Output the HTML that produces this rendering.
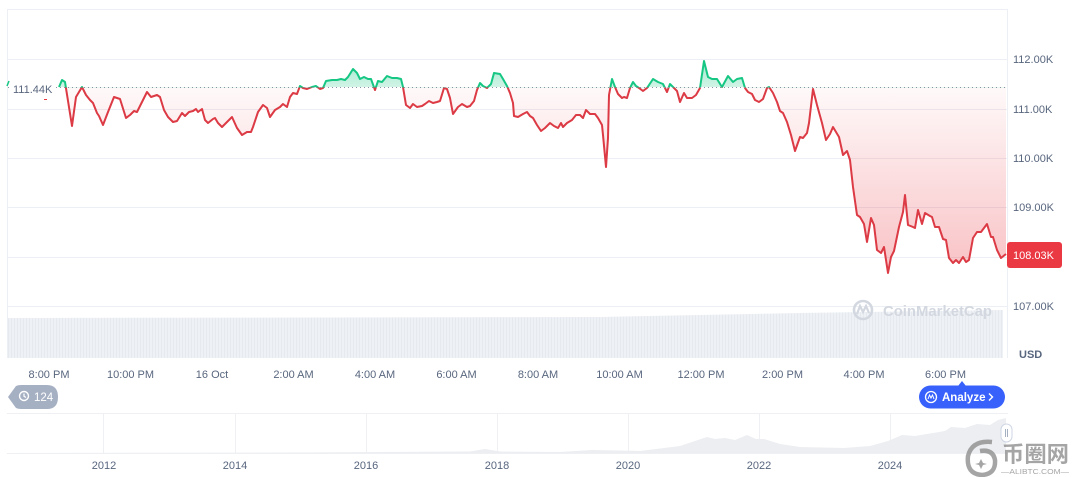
<!DOCTYPE html>
<html>
<head>
<meta charset="utf-8">
<style>
  html,body{margin:0;padding:0;background:#fff;}
  svg{display:block;font-family:"Liberation Sans",Arial,sans-serif;}
</style>
</head>
<body>
<svg width="1072" height="477" viewBox="0 0 1072 477" xmlns="http://www.w3.org/2000/svg">
  <defs>
    <linearGradient id="redg" gradientUnits="userSpaceOnUse" x1="0" y1="87" x2="0" y2="280">
      <stop offset="0" stop-color="#ea3943" stop-opacity="0.03"/>
      <stop offset="1" stop-color="#ea3943" stop-opacity="0.32"/>
    </linearGradient>
    <linearGradient id="greeng" gradientUnits="userSpaceOnUse" x1="0" y1="60" x2="0" y2="87">
      <stop offset="0" stop-color="#16c784" stop-opacity="0.40"/>
      <stop offset="1" stop-color="#16c784" stop-opacity="0.20"/>
    </linearGradient>
    <pattern id="volp" width="3" height="10" patternUnits="userSpaceOnUse">
      <rect x="0" y="0" width="3" height="10" fill="#eef1f5"/>
      <rect x="2" y="0" width="1" height="10" fill="#e6e9ee"/>
    </pattern>
    <clipPath id="above"><rect x="0" y="0" width="1072" height="87.5"/></clipPath>
    <clipPath id="below"><rect x="0" y="87.5" width="1072" height="400"/></clipPath>
    <path id="areaP" d="M59 87 L62 80 L65 82 L72 126 L76 97 L79 92 L82 87 L86 95 L90 100 L93 103 L97 113 L99 116 L103 125 L108 112 L114 97 L120 99 L126 118 L130 115 L134 111 L137 112 L142 102 L147 92 L151 97 L157 95 L160 97 L164 110 L168 117 L173 122 L177 121 L182 113 L185 116 L189 112 L193 111 L196 109 L198 112 L202 109 L205 120 L208 123 L213 119 L215 118 L218 123 L222 127 L227 122 L232 117 L237 128 L242 135 L247 132 L251 132 L253 127 L258 112 L263 105 L267 108 L270 117 L275 110 L280 107 L283 104 L287 107 L290 97 L293 93 L297 94 L300 86 L303 88 L307 89 L312 87 L316 86 L320 89 L323 88 L326 81 L332 80 L337 80 L341 79 L345 80 L348 77 L353 69 L357 73 L360 79 L364 77 L368 79 L371 79 L375 90 L378 81 L382 82 L387 76 L392 78 L397 78 L401 79 L403 87 L406 105 L410 108 L413 104 L417 107 L422 106 L425 104 L429 101 L433 103 L437 102 L440 101 L444 88 L447 89 L450 98 L453 114 L458 107 L462 104 L467 107 L470 106 L474 101 L477 90 L480 83 L483 86 L487 88 L491 84 L494 73 L500 74 L503 79 L507 86 L510 93 L513 103 L514 116 L518 117 L523 114 L527 112 L530 116 L533 118 L537 125 L541 131 L545 128 L550 123 L554 126 L558 128 L561 123 L563 127 L567 123 L572 120 L576 115 L580 115 L583 118 L586 110 L590 114 L595 114 L598 118 L602 125 L603 135 L606 167 L608 138 L609 95 L612 79 L615 87 L618 94 L622 98 L624 97 L627 98 L630 88 L633 82 L636 86 L639 88 L643 91 L647 88 L653 79 L658 82 L663 84 L667 92 L670 84 L674 88 L677 91 L680 102 L684 93 L687 98 L692 98 L696 95 L700 88 L704 61 L708 77 L712 79 L717 79 L722 87 L728 76 L733 82 L737 79 L742 78 L745 88 L748 92 L752 94 L755 100 L759 102 L763 99 L767 88 L769 87 L773 93 L777 102 L780 111 L783 113 L787 122 L791 135 L795 151 L800 137 L803 138 L807 133 L809 123 L813 89 L817 105 L822 123 L826 140 L830 134 L833 127 L839 137 L843 155 L847 151 L850 160 L853 187 L857 215 L860 217 L864 224 L867 242 L871 218 L874 225 L877 250 L881 253 L884 247 L888 273 L891 257 L894 251 L899 227 L903 212 L905 195 L908 225 L913 227 L915 228 L918 210 L922 224 L925 213 L930 216 L932 217 L935 227 L939 227 L943 239 L946 240 L949 258 L953 263 L956 260 L959 263 L963 257 L966 262 L969 260 L973 238 L977 232 L981 232 L987 224 L991 237 L993 237 L997 250 L1001 258 L1006 254 L1006 87 Z"/>
    <path id="lineP" d="M59 87 L62 80 L65 82 L72 126 L76 97 L79 92 L82 87 L86 95 L90 100 L93 103 L97 113 L99 116 L103 125 L108 112 L114 97 L120 99 L126 118 L130 115 L134 111 L137 112 L142 102 L147 92 L151 97 L157 95 L160 97 L164 110 L168 117 L173 122 L177 121 L182 113 L185 116 L189 112 L193 111 L196 109 L198 112 L202 109 L205 120 L208 123 L213 119 L215 118 L218 123 L222 127 L227 122 L232 117 L237 128 L242 135 L247 132 L251 132 L253 127 L258 112 L263 105 L267 108 L270 117 L275 110 L280 107 L283 104 L287 107 L290 97 L293 93 L297 94 L300 86 L303 88 L307 89 L312 87 L316 86 L320 89 L323 88 L326 81 L332 80 L337 80 L341 79 L345 80 L348 77 L353 69 L357 73 L360 79 L364 77 L368 79 L371 79 L375 90 L378 81 L382 82 L387 76 L392 78 L397 78 L401 79 L403 87 L406 105 L410 108 L413 104 L417 107 L422 106 L425 104 L429 101 L433 103 L437 102 L440 101 L444 88 L447 89 L450 98 L453 114 L458 107 L462 104 L467 107 L470 106 L474 101 L477 90 L480 83 L483 86 L487 88 L491 84 L494 73 L500 74 L503 79 L507 86 L510 93 L513 103 L514 116 L518 117 L523 114 L527 112 L530 116 L533 118 L537 125 L541 131 L545 128 L550 123 L554 126 L558 128 L561 123 L563 127 L567 123 L572 120 L576 115 L580 115 L583 118 L586 110 L590 114 L595 114 L598 118 L602 125 L603 135 L606 167 L608 138 L609 95 L612 79 L615 87 L618 94 L622 98 L624 97 L627 98 L630 88 L633 82 L636 86 L639 88 L643 91 L647 88 L653 79 L658 82 L663 84 L667 92 L670 84 L674 88 L677 91 L680 102 L684 93 L687 98 L692 98 L696 95 L700 88 L704 61 L708 77 L712 79 L717 79 L722 87 L728 76 L733 82 L737 79 L742 78 L745 88 L748 92 L752 94 L755 100 L759 102 L763 99 L767 88 L769 87 L773 93 L777 102 L780 111 L783 113 L787 122 L791 135 L795 151 L800 137 L803 138 L807 133 L809 123 L813 89 L817 105 L822 123 L826 140 L830 134 L833 127 L839 137 L843 155 L847 151 L850 160 L853 187 L857 215 L860 217 L864 224 L867 242 L871 218 L874 225 L877 250 L881 253 L884 247 L888 273 L891 257 L894 251 L899 227 L903 212 L905 195 L908 225 L913 227 L915 228 L918 210 L922 224 L925 213 L930 216 L932 217 L935 227 L939 227 L943 239 L946 240 L949 258 L953 263 L956 260 L959 263 L963 257 L966 262 L969 260 L973 238 L977 232 L981 232 L987 224 L991 237 L993 237 L997 250 L1001 258 L1006 254"/>
  </defs>

  <!-- frame -->
  <line x1="7" y1="9.5" x2="1007" y2="9.5" stroke="#eceff3" stroke-width="1"/>
  <line x1="7.5" y1="9" x2="7.5" y2="358" stroke="#eceff3" stroke-width="1"/>
  <line x1="1007.5" y1="9" x2="1007.5" y2="358" stroke="#eceff3" stroke-width="1"/>

  <!-- grid -->
  <g stroke="#eceff3" stroke-width="1">
    <line x1="8" y1="59.5" x2="1007" y2="59.5"/>
    <line x1="8" y1="109.5" x2="1007" y2="109.5"/>
    <line x1="8" y1="158.5" x2="1007" y2="158.5"/>
    <line x1="8" y1="207.5" x2="1007" y2="207.5"/>
    <line x1="8" y1="257.5" x2="1007" y2="257.5"/>
    <line x1="8" y1="306.5" x2="1007" y2="306.5"/>
  </g>

  <!-- volume -->
  <path d="M8 318 L600 317 L800 313 L1003 310 L1003 358 L8 358 Z" fill="url(#volp)"/>

  <!-- CoinMarketCap watermark -->
  <g>
    <circle cx="863" cy="310" r="9" fill="none" stroke="#d3d8e0" stroke-width="2.6"/>
    <path d="M857 314 L860 306 L863 312 L866 306 L869 313" fill="none" stroke="#d3d8e0" stroke-width="2.2"/>
    <text x="883" y="316" font-size="15" font-weight="bold" fill="#d3d8e0" textLength="109" lengthAdjust="spacingAndGlyphs">CoinMarketCap</text>
  </g>

  <!-- area fills -->
  <use href="#areaP" fill="url(#redg)" clip-path="url(#below)"/>
  <use href="#areaP" fill="url(#greeng)" clip-path="url(#above)"/>
  <use href="#lineP" fill="none" stroke="#dc3a44" stroke-width="2" stroke-linejoin="round" clip-path="url(#below)"/>
  <use href="#lineP" fill="none" stroke="#16c784" stroke-width="2" stroke-linejoin="round" clip-path="url(#above)"/>

  <!-- baseline dotted -->
  <line x1="8" y1="87.5" x2="1007" y2="87.5" stroke="#8a93a3" stroke-width="1" stroke-dasharray="1,3"/>

  <!-- left baseline label -->
  <rect x="11" y="81" width="45" height="15" fill="#fff"/>
  <text x="13" y="93" font-size="11" fill="#58667e">111.44K</text>
  <line x1="7" y1="86" x2="9" y2="81" stroke="#16c784" stroke-width="1.5"/>
  <line x1="44" y1="99.5" x2="47" y2="99.5" stroke="#ea3943" stroke-width="1"/>

  <!-- y axis labels -->
  <g font-size="11" fill="#58667e">
    <text x="1013" y="63">112.00K</text>
    <text x="1013" y="113">111.00K</text>
    <text x="1013" y="162">110.00K</text>
    <text x="1013" y="211">109.00K</text>
    <text x="1013" y="310">107.00K</text>
  </g>
  <rect x="1007" y="242" width="55" height="26" rx="3" fill="#ea3943"/>
  <text x="1013" y="259" font-size="11" fill="#fff">108.03K</text>
  <text x="1019" y="358" font-size="11" font-weight="bold" fill="#58667e">USD</text>

  <!-- x axis labels -->
  <g font-size="11" fill="#58667e" text-anchor="middle">
    <text x="49" y="378">8:00 PM</text>
    <text x="130.5" y="378">10:00 PM</text>
    <text x="212" y="378">16 Oct</text>
    <text x="293.5" y="378">2:00 AM</text>
    <text x="375" y="378">4:00 AM</text>
    <text x="456.5" y="378">6:00 AM</text>
    <text x="538" y="378">8:00 AM</text>
    <text x="619.5" y="378">10:00 AM</text>
    <text x="701" y="378">12:00 PM</text>
    <text x="782.5" y="378">2:00 PM</text>
    <text x="864" y="378">4:00 PM</text>
    <text x="945.5" y="378">6:00 PM</text>
  </g>

  <!-- 124 badge -->
  <path d="M8 397 L16 386 Q18 385 21 385 L47 385 Q58 385 58 397 Q58 409 47 409 L21 409 Q18 409 16 408 Z" fill="#a6b0c3"/>
  <circle cx="24" cy="396" r="4.5" fill="none" stroke="#fff" stroke-width="1.4"/>
  <path d="M24 393.5 L24 396.3 L26 397.5" fill="none" stroke="#fff" stroke-width="1.2"/>
  <text x="34" y="401" font-size="11.5" fill="#fff">124</text>

  <!-- Analyze button -->
  <path d="M958 386 L962 381 L966 386 Z" fill="#3861fb"/>
  <rect x="919" y="385.5" width="86" height="23" rx="11.5" fill="#3861fb"/>
  <circle cx="931" cy="397" r="5.5" fill="none" stroke="#fff" stroke-width="1.3"/>
  <path d="M928 399 L929.5 395 L931 398 L932.5 395 L934 399" fill="none" stroke="#fff" stroke-width="1"/>
  <text x="942" y="401" font-size="11.5" font-weight="bold" fill="#fff">Analyze</text>
  <path d="M989 393.5 L992.5 397 L989 400.5" fill="none" stroke="#fff" stroke-width="1.4"/>

  <!-- navigator -->
  <line x1="7" y1="413.5" x2="1008" y2="413.5" stroke="#eef0f3" stroke-width="1"/>
  <line x1="7" y1="453.5" x2="1008" y2="453.5" stroke="#eef0f3" stroke-width="1"/>
  <g stroke="#eef0f3" stroke-width="1">
    <line x1="103.5" y1="413" x2="103.5" y2="453"/>
    <line x1="235.5" y1="413" x2="235.5" y2="453"/>
    <line x1="366.5" y1="413" x2="366.5" y2="453"/>
    <line x1="497.5" y1="413" x2="497.5" y2="453"/>
    <line x1="628.5" y1="413" x2="628.5" y2="453"/>
    <line x1="759.5" y1="413" x2="759.5" y2="453"/>
    <line x1="890.5" y1="413" x2="890.5" y2="453"/>
  </g>
  <path d="M8 453 L300 452.5 L470 451.5 L485 449 L500 451.5 L560 452 L592 450 L640 451 L680 446 L695 441 L707 437 L715 439 L725 438 L735 440 L747 435 L756 439 L764 439 L780 444 L800 447 L844 448 L870 446 L888 441 L902 435 L915 436 L933 433 L945 431 L951 427 L965 428 L977 424 L990 425 L998 420 L1006 418 L1006 453 Z" fill="#eceef1"/>
  <rect x="1001" y="424" width="11" height="18" rx="5.5" fill="#fff" stroke="#cfd6e4" stroke-width="1"/>
  <line x1="1005.5" y1="429" x2="1005.5" y2="437" stroke="#a6b0c3" stroke-width="1"/>
  <line x1="1007.5" y1="429" x2="1007.5" y2="437" stroke="#a6b0c3" stroke-width="1"/>

  <g font-size="11" fill="#58667e" text-anchor="middle">
    <text x="104" y="469">2012</text>
    <text x="235" y="469">2014</text>
    <text x="366" y="469">2016</text>
    <text x="497" y="469">2018</text>
    <text x="628" y="469">2020</text>
    <text x="759" y="469">2022</text>
    <text x="890" y="469">2024</text>
  </g>

  <!-- 币圈网 watermark -->
  <g opacity="0.8">
    <path d="M992 442 Q972 440 968 456 Q966 474 982 475 Q996 474 995 460 Q993 449 980 451" fill="none" stroke="#8f8f8f" stroke-width="4.5"/>
    <path d="M981 459 L983 463 L987 464 L983 465 L981 469 L979 465 L975 464 L979 463 Z" fill="#8f8f8f"/>
    <text x="1002" y="462" font-family="'Liberation Sans','Noto Sans CJK SC',sans-serif" font-size="22" font-weight="bold" fill="#8f8f8f" textLength="67" lengthAdjust="spacingAndGlyphs">币圈网</text>
    <text x="1001" y="474" font-size="7" fill="#8f8f8f" textLength="68" lengthAdjust="spacingAndGlyphs">—ALIBTC.COM—</text>
  </g>
</svg>
</body>
</html>
